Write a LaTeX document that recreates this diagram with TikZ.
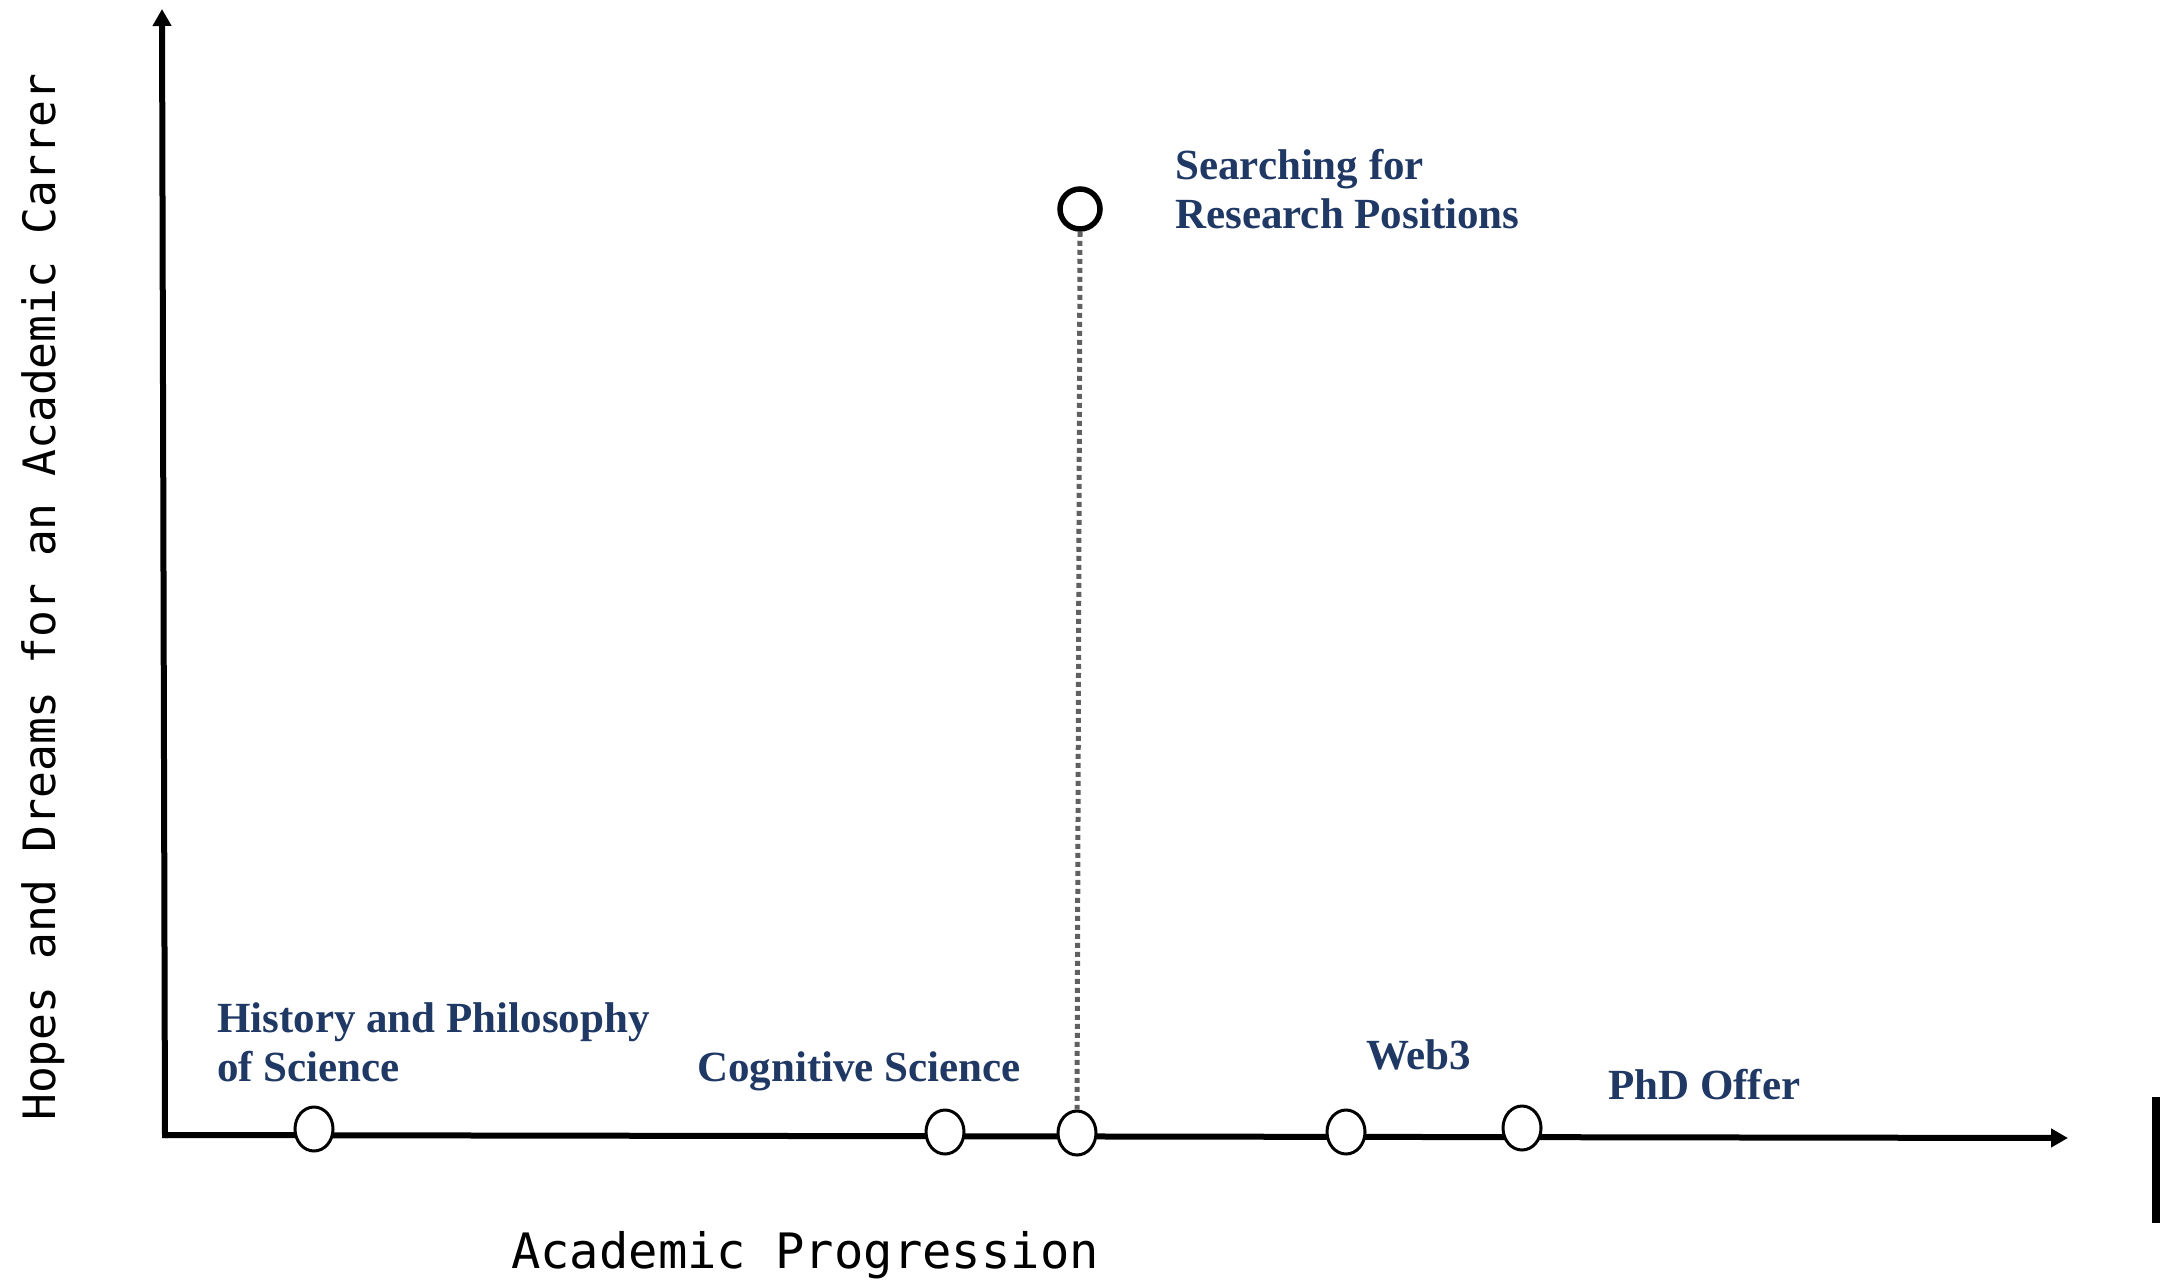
\documentclass[tikz,border=0pt]{standalone}
\usepackage{fontspec}
\setmainfont{Liberation Serif}
\newfontfamily\monofont{DejaVu Sans Mono}
\usetikzlibrary{arrows.meta,shapes.geometric}
\definecolor{navy}{RGB}{31,56,100}
\definecolor{dotgray}{RGB}{96,96,96}
\tikzset{
  axisline/.style={line width=6pt, -{Triangle[length=17pt,width=18pt]}},
  milestone/.style={ellipse, draw=black, line width=3pt, fill=white, minimum width=38pt, minimum height=44pt, inner sep=0pt},
  bigstone/.style={ellipse, draw=black, line width=5.5pt, fill=white, minimum width=40pt, minimum height=40pt, inner sep=0pt},
  lbl/.style={text=navy, font=\fontsize{43}{49}\selectfont\bfseries, anchor=base west, inner sep=0pt, align=left},
  axlbl/.style={font=\monofont\fontsize{48.8}{56}\selectfont, anchor=base west, inner sep=0pt},
  dotline/.style={draw=dotgray, line width=5pt, dash pattern=on 5pt off 4pt}
}
\begin{document}
\begin{tikzpicture}[x=1pt,y=-1pt]
\useasboundingbox (0,0) rectangle (2176,1283);
% axes
\coordinate (origin) at (165,1135);
\coordinate (ytip) at (162,9);
\coordinate (xtip) at (2068,1138);
\draw[axisline, line cap=rect] (origin) -- (ytip);
\draw[axisline] (origin) -- (xtip);
% right bar
\coordinate (bartop) at (2156,1097);
\coordinate (barbot) at (2156,1223);
\draw[line width=8pt] (bartop) -- (barbot);
% milestones
\node[milestone] (hps) at (314,1129) {};
\node[milestone] (cog) at (945,1132) {};
\node[milestone] (srch) at (1077,1133) {};
\node[milestone] (web) at (1346,1132) {};
\node[milestone] (phd) at (1522,1128) {};
\node[bigstone] (top) at (1080,209) {};
\draw[dotline] (top.south) -- (srch.north);
% labels
\node[lbl] (ltop) at (1175,228) {Searching for\\Research Positions};
\node[lbl] (lhps) at (217,1081) {History and Philosophy\\of Science};
\node[lbl] (lcog) at (697,1081) {Cognitive Science};
\node[lbl] (lweb) at (1366,1069) {Web3};
\node[lbl] (lphd) at (1608,1099) {PhD Offer};
% axis labels
\node[axlbl] (xl) at (511,1268) {Academic Progression};
\node[axlbl, font=\monofont\fontsize{44.6}{50}\selectfont, rotate=90] (yl) at (55,1121) {Hopes and Dreams for an Academic Carrer};
\end{tikzpicture}
\end{document}
